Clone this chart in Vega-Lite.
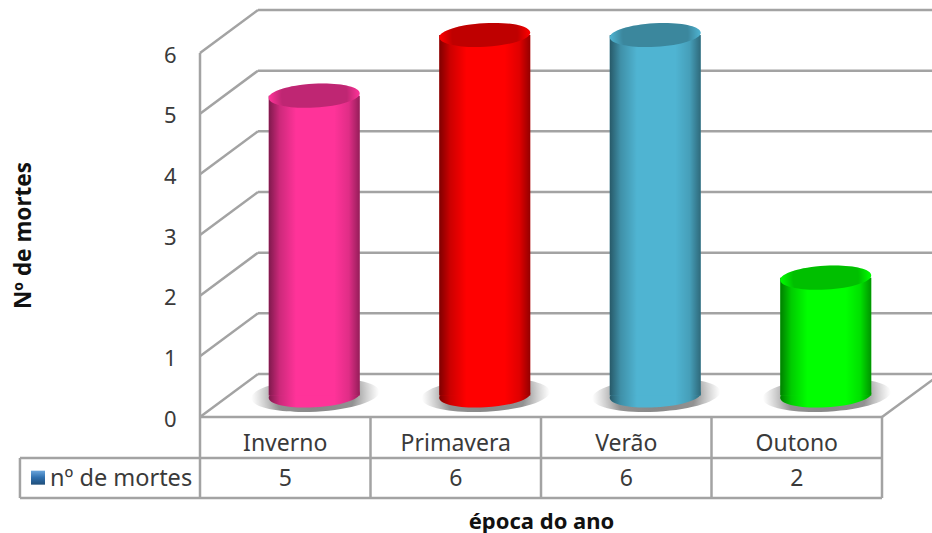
{
"$schema":"https://vega.github.io/schema/vega-lite/v6.json",
"width":682,"height":364,
"autosize":{"type":"none"},
"padding":{"left":200,"top":53,"right":50,"bottom":116},
"background":"white",
"config":{"view":{"stroke":null},"font":"Noto Sans"},
"datasets":{
"bars":[
{"epoca":"Inverno","mortes":5},
{"epoca":"Primavera","mortes":6},
{"epoca":"Verão","mortes":6},
{"epoca":"Outono","mortes":2}],
"frame":[
{"x":0.34,"x2":4.3,"y":0.709,"y2":0.709},
{"x":0.34,"x2":4.3,"y":1.709,"y2":1.709},
{"x":0.34,"x2":4.3,"y":2.709,"y2":2.709},
{"x":0.34,"x2":4.3,"y":3.709,"y2":3.709},
{"x":0.34,"x2":4.3,"y":4.709,"y2":4.709},
{"x":0.34,"x2":4.3,"y":5.709,"y2":5.709},
{"x":0.34,"x2":4.3,"y":6.709,"y2":6.709},
{"x":0,"x2":0.34,"y":0,"y2":0.709},
{"x":0,"x2":0.34,"y":1,"y2":1.709},
{"x":0,"x2":0.34,"y":2,"y2":2.709},
{"x":0,"x2":0.34,"y":3,"y2":3.709},
{"x":0,"x2":0.34,"y":4,"y2":4.709},
{"x":0,"x2":0.34,"y":5,"y2":5.709},
{"x":0,"x2":0.34,"y":6,"y2":6.709},
{"x":0,"x2":0,"y":-1.335,"y2":6},
{"x":1,"x2":1,"y":-1.335,"y2":0},
{"x":2,"x2":2,"y":-1.335,"y2":0},
{"x":3,"x2":3,"y":-1.335,"y2":0},
{"x":4,"x2":4,"y":-1.335,"y2":0},
{"x":-1.056,"x2":-1.056,"y":-1.335,"y2":-0.676},
{"x":0,"x2":4,"y":0,"y2":0},
{"x":-1.056,"x2":4,"y":-0.676,"y2":-0.676},
{"x":-1.056,"x2":4,"y":-1.335,"y2":-1.335},
{"x":4,"x2":4.3,"y":0,"y2":0.62}],
"rowlabel":[{"serie":"nº de mortes"}]
},
"resolve":{"scale":{"x":"independent"}},
"layer":[
{"data":{"name":"frame"},
 "mark":{"type":"rule","stroke":"#a3a3a3","strokeWidth":2.5,"clip":false},
 "encoding":{
  "x":{"field":"x","type":"quantitative","scale":{"domain":[0,4]},"axis":null},
  "x2":{"field":"x2"},
  "y":{"field":"y","type":"quantitative","scale":{"domain":[0,6],"nice":false},
   "axis":{"title":"Nº de mortes","titleFontSize":22.5,"titleFontWeight":"bold","titleColor":"#111111","titlePadding":128,
      "labelFontSize":22,"labelColor":"#3a3a3a","labelPadding":24,"labelOffset":2,"values":[0,1,2,3,4,5,6],"format":"d","domain":false,"ticks":false,"grid":false}},
  "y2":{"field":"y2"}}},
{"data":{"name":"rowlabel"},
 "mark":{"type":"point","filled":true,"opacity":1,"shape":"square","size":196,
  "fill":{"gradient":"linear","x1":0,"y1":0,"x2":0,"y2":1,"stops":[{"offset":0,"color":"#6aa5dc"},{"offset":0.5,"color":"#2f6fae"},{"offset":1,"color":"#1f4e79"}]}},
 "encoding":{
  "x":{"datum":-0.95,"type":"quantitative","scale":{"domain":[0,4]},"axis":null},
  "y":{"datum":-1,"type":"quantitative"}}},
{"data":{"name":"rowlabel"},
 "mark":{"type":"text","align":"left","baseline":"middle","fontSize":23.5,"fill":"#3a3a3a"},
 "encoding":{
  "x":{"datum":-0.88,"type":"quantitative","scale":{"domain":[0,4]},"axis":null},
  "y":{"datum":-1.02,"type":"quantitative"},
  "text":{"field":"serie"}}},
{"data":{"name":"bars"},
 "encoding":{
  "x":{"field":"epoca","type":"nominal","sort":null,
   "scale":{"domain":["Inverno","Primavera","Verão","Outono"],"paddingInner":0,"paddingOuter":0},
   "axis":{"title":"época do ano","titleFontSize":22,"titleFontWeight":"bold","titleColor":"#111111","titlePadding":56,
    "labelFontSize":23,"labelColor":"#3a3a3a","labelAngle":0,"labelPadding":15,"domain":false,"ticks":false,"grid":false}},
  "color":{"field":"epoca","type":"nominal","legend":null,
   "scale":{"domain":["Inverno","Primavera","Verão","Outono"],"range":["#ff3399","#ff0000","#4fb4d2","#00ff00"]}}},
 "layer":[
  {"mark":{"type":"point","filled":true,"opacity":1,"size":16384,"xOffset":30,"yOffset":-22,
    "shape":"M-1,0.055 C-1.008,-0.089,-0.566,-0.230,-0.014,-0.26 C0.538,-0.290,0.992,-0.199,1,-0.055 C1.008,0.089,0.566,0.230,0.014,0.26 C-0.538,0.290,-0.992,0.199,-1,0.055 Z",
    "fill":{"gradient":"radial","x1":0.5,"y1":0.5,"r1":0,"x2":0.5,"y2":0.5,"r2":0.5,"stops":[{"offset":0,"color":"rgba(110,110,110,0.85)"},{"offset":0.6,"color":"rgba(110,110,110,0.75)"},{"offset":1,"color":"rgba(140,140,140,0)"}]}},
   "encoding":{"color":{"value":null},"y":{"datum":0,"type":"quantitative"}}},
  {"mark":{"type":"point","filled":true,"opacity":1,"size":8281,"xOffset":29,"yOffset":-21.5,
    "shape":"M-1,0.055 C-1.008,-0.089,-0.566,-0.230,-0.014,-0.26 C0.538,-0.290,0.992,-0.199,1,-0.055 C1.008,0.089,0.566,0.230,0.014,0.26 C-0.538,0.290,-0.992,0.199,-1,0.055 Z"},
   "encoding":{"y":{"datum":0,"type":"quantitative"}}},
  {"mark":{"type":"point","filled":true,"opacity":1,"size":8281,"xOffset":29,"yOffset":-21.5,
    "shape":"M-1,0.055 C-1.008,-0.089,-0.566,-0.230,-0.014,-0.26 C0.538,-0.290,0.992,-0.199,1,-0.055 C1.008,0.089,0.566,0.230,0.014,0.26 C-0.538,0.290,-0.992,0.199,-1,0.055 Z",
    "fill":{"gradient":"linear","x1":0,"y1":0,"x2":1,"y2":0,"stops":[{"offset":0,"color":"rgba(0,0,0,0.5)"},{"offset":0.12,"color":"rgba(0,0,0,0.2)"},{"offset":0.3,"color":"rgba(0,0,0,0)"},{"offset":0.72,"color":"rgba(0,0,0,0)"},{"offset":0.88,"color":"rgba(0,0,0,0.12)"},{"offset":1,"color":"rgba(0,0,0,0.42)"}]}},
   "encoding":{"color":{"value":null},"y":{"datum":0,"type":"quantitative"}}},
  {"mark":{"type":"bar","width":91,"xOffset":29,"yOffset":-18,"y2Offset":-21.5},
   "encoding":{"y":{"field":"mortes","type":"quantitative","stack":null},"y2":{"datum":0}}},
  {"mark":{"type":"bar","width":91,"xOffset":29,"yOffset":-18,"y2Offset":-21.5,
    "fill":{"gradient":"linear","x1":0,"y1":0,"x2":1,"y2":0,"stops":[{"offset":0,"color":"rgba(0,0,0,0.5)"},{"offset":0.12,"color":"rgba(0,0,0,0.2)"},{"offset":0.3,"color":"rgba(0,0,0,0)"},{"offset":0.72,"color":"rgba(0,0,0,0)"},{"offset":0.88,"color":"rgba(0,0,0,0.12)"},{"offset":1,"color":"rgba(0,0,0,0.42)"}]}},
   "encoding":{"color":{"value":null},"y":{"field":"mortes","type":"quantitative","stack":null},"y2":{"datum":0}}},
  {"mark":{"type":"point","filled":true,"opacity":1,"size":8281,"xOffset":29,"yOffset":-18,
    "shape":"M-1,0.055 C-1.008,-0.089,-0.566,-0.230,-0.014,-0.26 C0.538,-0.290,0.992,-0.199,1,-0.055 C1.008,0.089,0.566,0.230,0.014,0.26 C-0.538,0.290,-0.992,0.199,-1,0.055 Z"},
   "encoding":{"y":{"field":"mortes","type":"quantitative"}}},
  {"mark":{"type":"point","filled":true,"opacity":1,"size":8281,"xOffset":29,"yOffset":-18,
    "shape":"M-1,0.055 C-1.008,-0.089,-0.566,-0.230,-0.014,-0.26 C0.538,-0.290,0.992,-0.199,1,-0.055 C1.008,0.089,0.566,0.230,0.014,0.26 C-0.538,0.290,-0.992,0.199,-1,0.055 Z",
    "fill":{"gradient":"radial","x1":0.5,"y1":0.5,"r1":0,"x2":0.5,"y2":0.5,"r2":0.5,"stops":[{"offset":0,"color":"rgba(0,0,0,0.25)"},{"offset":0.72,"color":"rgba(0,0,0,0.25)"},{"offset":1,"color":"rgba(0,0,0,0)"}]}},
   "encoding":{"color":{"value":null},"y":{"field":"mortes","type":"quantitative"}}},
  {"mark":{"type":"text","fontSize":23,"fill":"#3a3a3a","baseline":"middle"},
   "encoding":{"color":{"value":null},"y":{"datum":-1.02,"type":"quantitative"},"text":{"field":"mortes","type":"quantitative"}}}
 ]}
]
}
